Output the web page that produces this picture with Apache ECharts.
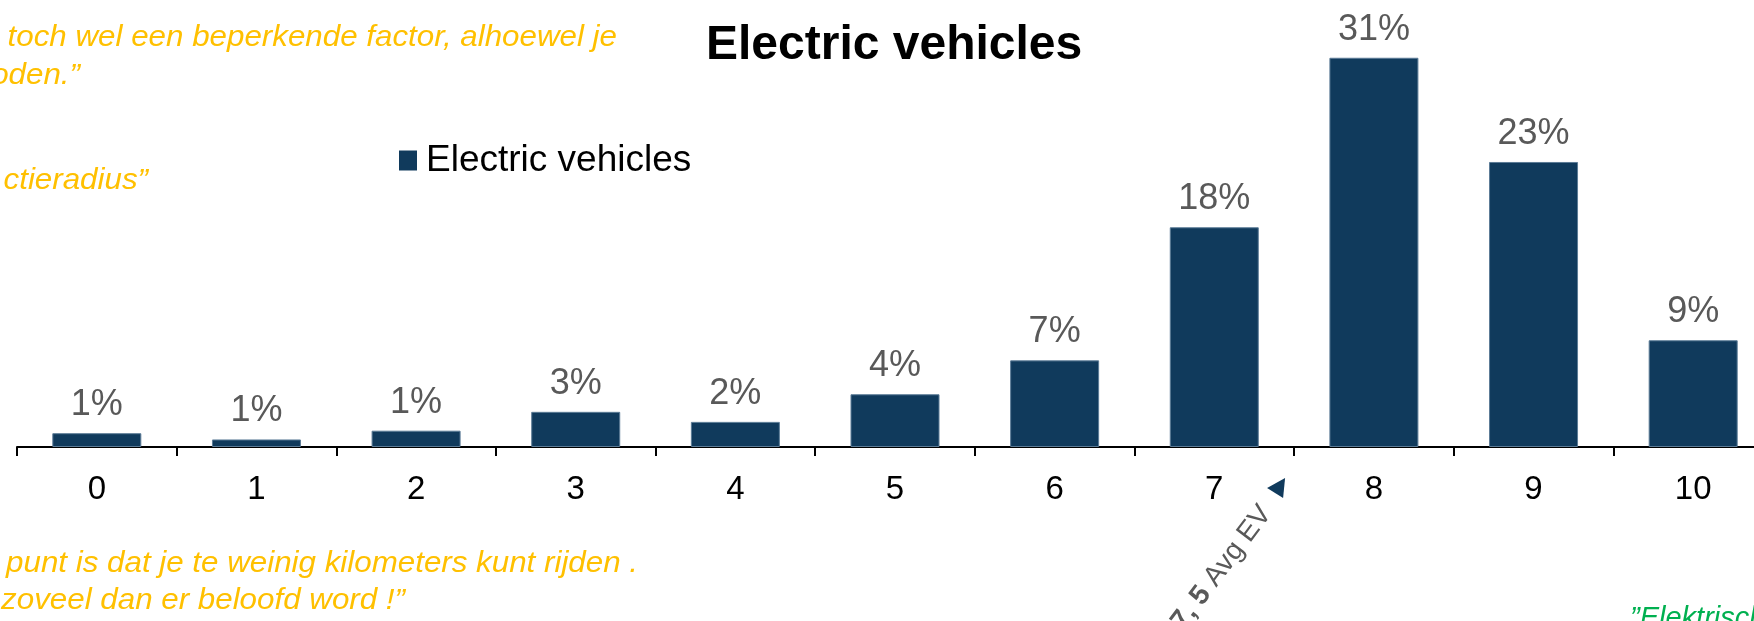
<!DOCTYPE html>
<html>
<head>
<meta charset="utf-8">
<title>Electric vehicles</title>
<script src="https://cdn.jsdelivr.net/npm/echarts@6/dist/echarts.min.js"></script>
<style>
  html, body { margin: 0; padding: 0; background: #fff; overflow: hidden; }
  /* slightly wider than the window: the last column runs off the slide */
  #chart { width: 1773px; height: 621px; }
</style>
</head>
<body>
<div id="chart"></div>
<script>
// scores 0..10 and share of respondents (%)
const categories = ['0', '1', '2', '3', '4', '5', '6', '7', '8', '9', '10'];
const evShare = [1.1, 0.6, 1.3, 2.8, 2.0, 4.2, 6.9, 17.5, 31, 22.7, 8.5];
const seriesName = 'Electric vehicles';
const avgEV = 7.5;

// quote fragments around the chart (cut off by the slide edge)
const quotesTop = ['toch wel een beperkende factor, alhoewel je', 'oden.”', 'ctieradius”'];
const quotesBottom = ['punt is dat je te weinig kilometers kunt rijden .', 'zoveel dan er beloofd word !”'];
const quoteGreen = '”Elektrische';

const FONT = '"Liberation Sans", Arial, Helvetica, sans-serif';
const YELLOW = '#FFC000';
const quoteSize = 29;

const fillChart = () => {
  const dom = document.getElementById('chart');
  const myChart = echarts.init(dom, null, { renderer: 'canvas' });

  const option = {
    backgroundColor: '#fff',
    animation: false,
    title: {
      text: 'Electric vehicles',
      left: 706,
      top: 22,
      padding: 0,
      textStyle: { fontFamily: FONT, fontSize: 48, fontWeight: 'bold', color: '#000' }
    },
    legend: {
      data: [seriesName],
      left: 399,
      top: 142,
      padding: 0,
      icon: 'rect',
      itemWidth: 18,
      itemHeight: 20,
      itemStyle: { borderWidth: 0 },
      textStyle: { fontFamily: FONT, fontSize: 37, color: '#000', padding: [0, 0, 0, 4] }
    },
    grid: { left: 17, right: 0, top: 0, bottom: 174 },
    xAxis: {
      type: 'category',
      data: categories,
      axisLine: { show: true, lineStyle: { color: '#000', width: 2 } },
      axisTick: { show: true, length: 9, lineStyle: { color: '#000', width: 2 } },
      axisLabel: { fontFamily: FONT, fontSize: 33, color: '#000', margin: 26 }
    },
    yAxis: {
      type: 'value',
      min: 0,
      max: 35.6,
      show: false,
      splitLine: { show: false }
    },
    series: [
      {
        name: seriesName,
        type: 'bar',
        data: evShare,
        barWidth: 89,
        itemStyle: { color: '#103A5C', borderColor: '#5b7b96', borderWidth: 1 },
        label: {
          show: true,
          position: 'top',
          distance: 10,
          fontFamily: FONT,
          fontSize: 36,
          color: '#595959',
          formatter: (p) => Math.round(p.value) + '%'
        }
      }
    ]
  };

  myChart.setOption(option);

  // annotations: quotes + avg marker placed from the axis scale
  const x7 = myChart.convertToPixel({ xAxisIndex: 0 }, 7);
  const x8 = myChart.convertToPixel({ xAxisIndex: 0 }, 8);
  const avgX = x7 + (x8 - x7) * (avgEV - 7);
  const axisY = myChart.convertToPixel({ yAxisIndex: 0 }, 0);

  const quoteText = (text, endX, baseline, color) => ({
    type: 'text',
    x: endX,
    y: baseline - 0.31 * quoteSize,
    scaleX: 1.08,
    silent: true,
    style: {
      text: text,
      fill: color,
      font: 'italic ' + quoteSize + 'px ' + FONT,
      align: 'right',
      verticalAlign: 'middle'
    }
  });

  myChart.setOption({
    graphic: [
      quoteText(quotesTop[0], 617, 47, YELLOW),
      quoteText(quotesTop[1], 80, 85, YELLOW),
      quoteText(quotesTop[2], 148, 190, YELLOW),
      quoteText(quotesBottom[0], 638, 573, YELLOW),
      quoteText(quotesBottom[1], 405, 610, YELLOW),
      {
        type: 'text',
        x: 1630,
        y: 604,
        silent: true,
        style: {
          text: quoteGreen,
          fill: '#00B050',
          font: 'italic ' + quoteSize + 'px ' + FONT,
          align: 'left',
          verticalAlign: 'top'
        }
      },
      {
        type: 'polygon',
        silent: true,
        shape: {
          points: [
            [avgX - 27, axisY + 41],
            [avgX - 9, axisY + 31],
            [avgX - 11, axisY + 51]
          ]
        },
        style: { fill: '#103A5C' }
      },
      {
        type: 'text',
        x: avgX - 28,
        y: axisY + 62,
        rotation: 53 * Math.PI / 180,
        silent: true,
        style: {
          text: '{b|7, 5} Avg EV',
          fill: '#595959',
          font: '28px ' + FONT,
          align: 'right',
          verticalAlign: 'middle',
          rich: {
            b: { fontFamily: FONT, fontSize: 28, fontWeight: 'bold', fill: '#595959' }
          }
        }
      }
    ]
  });
};

window.onload = function () {
  fillChart();
};
</script>
</body>
</html>
